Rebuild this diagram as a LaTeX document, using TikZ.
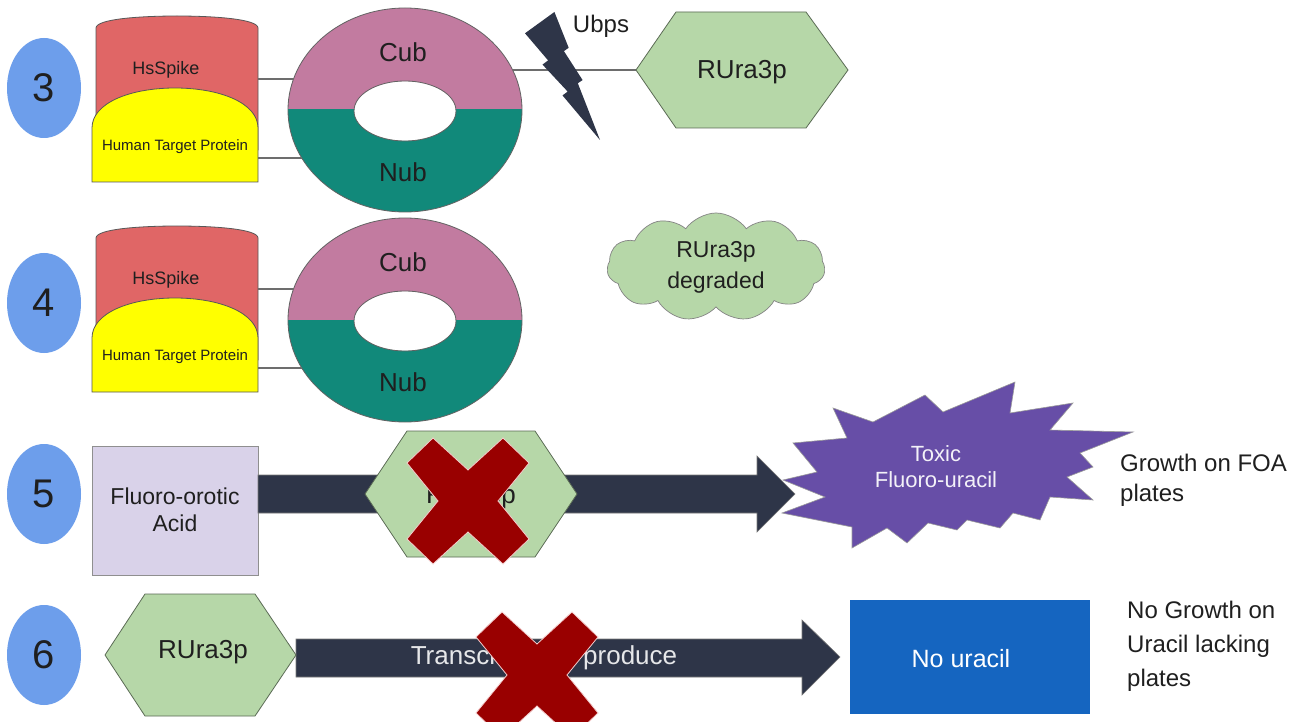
\documentclass[tikz,border=0pt]{standalone}
\usepackage{fontspec}
\setmainfont{Liberation Sans}
\usetikzlibrary{shapes.geometric,shapes.symbols}

\definecolor{numblue}{HTML}{6D9EEB}
\definecolor{spikered}{HTML}{E06666}
\definecolor{targetyellow}{HTML}{FFFF00}
\definecolor{cubpink}{HTML}{C27BA0}
\definecolor{nubteal}{HTML}{11897A}
\definecolor{hexgreen}{HTML}{B6D7A8}
\definecolor{hexline}{HTML}{5B6B55}
\definecolor{acidlav}{HTML}{D9D2E9}
\definecolor{navy}{HTML}{2E3548}
\definecolor{toxpurple}{HTML}{674EA7}
\definecolor{noblue}{HTML}{1565C0}
\definecolor{xred}{HTML}{990000}
\definecolor{xedge}{HTML}{F4CCCC}
\definecolor{ink}{HTML}{1F1F1F}

\tikzset{
  numdot/.style={ellipse, fill=numblue, minimum width=74pt, minimum height=100pt,
    inner sep=0pt, text=ink, font=\fontsize{40}{48}\selectfont},
  lbl/.style={inner sep=0pt, text=ink, align=center},
  outline/.style={draw=ink!75, line width=0.8pt},
  link/.style={draw=ink!65, line width=1.1pt},
  hexagonfill/.style={fill=hexgreen, draw=hexline, line width=0.8pt},
  blockarrow/.style={fill=navy, draw=ink!60, line width=0.6pt},
  crossfill/.style={fill=xred, draw=xedge, line width=0.8pt},
  crossmark/.pic={
    \path[crossfill] (-61,-38) -- (-35,-63) -- (0,-31) -- (35,-63) -- (61,-38)
      -- (30,0) -- (61,38) -- (35,63) -- (0,31) -- (-35,63) -- (-61,38) -- (-30,0) -- cycle;
  },
  fusion/.pic={
    % HsSpike cap
    \path[fill=spikered, outline] (96,150) -- (96,28) .. controls (96,19) and (140,16) .. (177,16)
      .. controls (214,16) and (258,19) .. (258,28) -- (258,150) -- cycle;
    \node[lbl, font=\fontsize{18}{21}\selectfont] (-spike) at (166,70) {HsSpike};
    % human target protein dome
    \path[fill=targetyellow, outline] (92,182) -- (92,128) .. controls (92,103) and (130,88) .. (175,88)
      .. controls (220,88) and (258,103) .. (258,128) -- (258,182) -- cycle;
    \node[lbl, font=\fontsize{15}{18}\selectfont] (-target) at (175,147) {Human Target Protein};
    % split ubiquitin ring
    \begin{scope}
      \clip (280,-5) rectangle (530,110);
      \fill[cubpink, even odd rule] (405,110) ellipse[x radius=117pt, y radius=102pt]
        (405,111) ellipse[x radius=51pt, y radius=30pt];
    \end{scope}
    \begin{scope}
      \clip (280,110) rectangle (530,225);
      \fill[nubteal, even odd rule] (405,110) ellipse[x radius=117pt, y radius=102pt]
        (405,111) ellipse[x radius=51pt, y radius=30pt];
    \end{scope}
    \draw[ink!70, line width=0.8pt] (405,110) ellipse[x radius=117pt, y radius=102pt]
      (405,111) ellipse[x radius=51pt, y radius=30pt];
    \node[lbl, font=\fontsize{26}{30}\selectfont] (-cub) at (403,52) {Cub};
    \node[lbl, font=\fontsize{26}{30}\selectfont] (-nub) at (403,172) {Nub};
    % tethers
    \coordinate (-spikeR) at (258,79);
    \coordinate (-targetR) at (258,158);
    \coordinate (-cubL) at (293.5,79);
    \coordinate (-nubL) at (302,158);
    \coordinate (-cubR) at (512.6,70);
    \draw[link] (-spikeR) -- (-cubL);
    \draw[link] (-targetR) -- (-nubL);
  }
}

\begin{document}
\begin{tikzpicture}[x=1pt, y=-1pt]
\clip (0,0) rectangle (1312,722);
\fill[white] (0,0) rectangle (1312,722);

% ---------- step 3 ----------
\pic (r3) at (0,0) {fusion};
\coordinate (hexA-L) at (636,70);
\draw[link] (r3-cubR) -- (hexA-L);
\path[hexagonfill] (hexA-L) -- (676,12) -- (806,12) -- (848,70) -- (806,128) -- (676,128) -- cycle;
\node[lbl, font=\fontsize{26}{30}\selectfont] (hexA) at (742,72) {RUra3p};
% Ubps lightning bolt
\path[fill=navy] (554.4,12) -- (568.7,47.8) -- (563.9,51.1) -- (582.6,80.1) -- (577.8,83.2)
  -- (600,140) -- (562.5,95.4) -- (567.7,91.6) -- (542.5,64.6) -- (548.1,60.4) -- (525,33.3) -- cycle;
\node[lbl, font=\fontsize{24}{28}\selectfont] (ubps) at (601,26) {Ubps};

% ---------- step 4 ----------
\pic (r4) at (0,210) {fusion};
\node[cloud, cloud puffs=11, cloud puff arc=110, aspect=2, fill=hexgreen, draw=ink!55,
  line width=0.7pt, minimum width=218pt, minimum height=108pt, inner sep=0pt,
  text=ink, align=center, font=\fontsize{23}{31}\selectfont] (cloud) at (716,267)
  {RUra3p\\degraded};

% ---------- step 5 ----------
\path[fill=acidlav, draw=ink!50, line width=0.8pt] (92,446) rectangle (258,575);
\node[lbl, font=\fontsize{23}{27}\selectfont] (acid) at (175,510) {Fluoro-orotic\\Acid};
\path[blockarrow] (258,475) -- (757,475) -- (757,456) -- (795,494) -- (757,532) -- (757,513) -- (258,513) -- cycle;
\path[hexagonfill] (365,494) -- (407,431) -- (535,431) -- (577,494) -- (535,557) -- (407,557) -- cycle;
\node[lbl, font=\fontsize{26}{30}\selectfont] (hexB) at (471,497) {RUra3p};
\pic (x5) at (468,501) {crossmark};
% toxic fluoro-uracil burst
\path[fill=toxpurple, draw=ink!45, line width=0.6pt]
  (833,408) -- (873,422) -- (925,395) -- (943,412) -- (1015,382) -- (1010,413)
  -- (1073,403) -- (1050,430) -- (1133,432) -- (1080,453) -- (1093,467) -- (1067,477)
  -- (1093,500) -- (1050,497) -- (1040,520) -- (1013,513) -- (1000,528) -- (967,520)
  -- (957,530) -- (928,523) -- (907,543) -- (887,528) -- (852,548) -- (852,527)
  -- (782,513) -- (825,497) -- (783,480) -- (817,472) -- (793,443) -- (847,438) -- cycle;
\node[inner sep=0pt, align=center, text=white!92!toxpurple, font=\fontsize{22}{26}\selectfont]
  (toxic) at (936,467) {Toxic\\Fluoro-uracil};
\node[lbl, anchor=west, align=left, font=\fontsize{24}{30}\selectfont] (foa) at (1120,480)
  {Growth on FOA\\plates};

% ---------- step 6 ----------
\path[blockarrow] (296,639) -- (802,639) -- (802,620) -- (840,657) -- (802,695) -- (802,677) -- (296,677) -- cycle;
\path[hexagonfill] (105,655) -- (145,594) -- (255,594) -- (296,655) -- (255,716) -- (145,716) -- cycle;
\node[lbl, font=\fontsize{26}{30}\selectfont] (hexC) at (203,652) {RUra3p};
\node[inner sep=0pt, text=white!88!navy, font=\fontsize{26}{30}\selectfont] (transc) at (544,658)
  {Transcribed to produce};
\pic (x6) at (537,675) {crossmark};
\path[fill=noblue] (850,600) rectangle (1090,714);
\node[inner sep=0pt, text=white, font=\fontsize{25}{30}\selectfont] (nouracil) at (961,659) {No uracil};
\node[lbl, anchor=west, align=left, font=\fontsize{24}{34}\selectfont] (nogrowth) at (1127,646)
  {No Growth on\\Uracil lacking\\plates};

% ---------- step numbers ----------
\node[numdot] (n3) at (44,88) {3};
\node[numdot] (n4) at (44,303) {4};
\node[numdot] (n5) at (44,494) {5};
\node[numdot] (n6) at (44,655) {6};
\end{tikzpicture}
\end{document}
